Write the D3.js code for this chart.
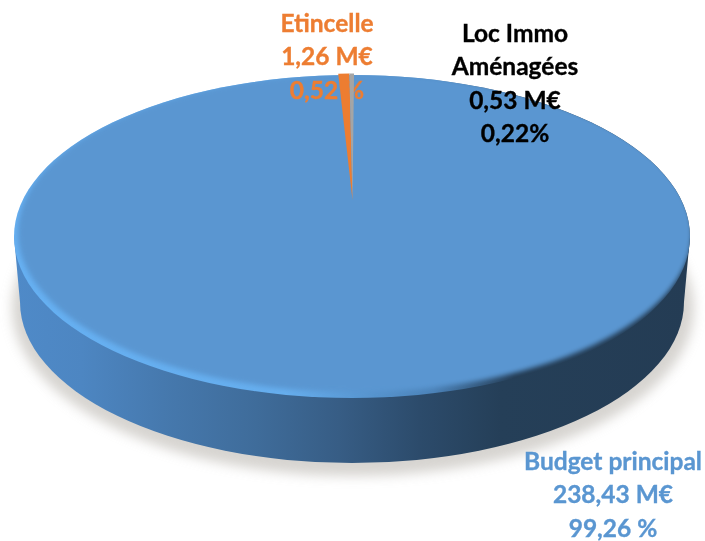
<!DOCTYPE html>
<html><head><meta charset="utf-8">
<script src="https://cdn.jsdelivr.net/npm/d3@7"></script>
<style>html,body{margin:0;padding:0;background:#fff}svg{display:block}</style>
</head><body><div id="c"></div>
<script>
const categories = ["Budget principal", "Etincelle", "Loc Immo Aménagées"];
const values = [238.43, 1.26, 0.53];
const colors = ["#5a96d1", "#ed7d31", "#a5a5a5"];
const labelLines = [
  ["Budget principal", "238,43 M€", "99,26 %"],
  ["Etincelle", "1,26 M€", "0,52 %"],
  ["Loc Immo", "Aménagées", "0,53 M€", "0,22%"]
];
const W = 705, H = 541;
const face = {cx: 352, cy: 236.5, rx: 338, ry: 161.5};
const bot = {cx: 352, cy: 302, rx: 332, ry: 161};
const apex = [352.5, 200];

const svg = d3.select("#c").append("svg").attr("width", W).attr("height", H);
const defs = svg.append("defs");
const blur = (id, s) => defs.append("filter").attr("id", id)
  .attr("x", "-10%").attr("y", "-10%").attr("width", "120%").attr("height", "120%")
  .append("feGaussianBlur").attr("stdDeviation", s);
blur("sh", 6); blur("in", 2.6); blur("tx", 0.35);

const grad = (id, stops) => {
  const g = defs.append("linearGradient").attr("id", id)
    .attr("gradientUnits", "userSpaceOnUse")
    .attr("x1", 14).attr("x2", 690).attr("y1", 0).attr("y2", 0);
  stops.forEach(([o, c]) => g.append("stop").attr("offset", o).attr("stop-color", c));
};
grad("side", [[0, "#4f8ac8"], [0.1, "#4d86c2"], [0.22, "#4679ae"], [0.36, "#3f6c9a"], [0.48, "#375d85"], [0.6, "#2c4b6b"], [0.72, "#253f58"], [1, "#243c54"]]);
grad("rim", [[0, "#66b0f2"], [0.4, "#66aeee"], [0.62, "#4b82b8"], [0.74, "#243c54"], [1, "#243c54"]]);
defs.append("clipPath").attr("id", "topclip").append("ellipse")
  .attr("cx", face.cx).attr("cy", face.cy).attr("rx", face.rx).attr("ry", face.ry);

// shadow
svg.append("ellipse").attr("cx", bot.cx + 1).attr("cy", bot.cy + 6).attr("rx", bot.rx + 9).attr("ry", bot.ry + 7)
  .attr("fill", "#c9c6c1").attr("opacity", .75).attr("filter", "url(#sh)");

// side wall
svg.append("path").attr("fill", "url(#side)")
  .attr("d", d3.line()([[face.cx - face.rx, face.cy], [face.cx + face.rx, face.cy], [bot.cx + bot.rx, bot.cy], [bot.cx - bot.rx, bot.cy]]));
svg.append("ellipse").attr("cx", bot.cx).attr("cy", bot.cy).attr("rx", bot.rx).attr("ry", bot.ry).attr("fill", "url(#side)");

// top: rim, then blurred face
svg.append("ellipse").attr("cx", face.cx).attr("cy", face.cy).attr("rx", face.rx).attr("ry", face.ry).attr("fill", "url(#rim)");
svg.append("g").attr("clip-path", "url(#topclip)").append("ellipse")
  .attr("cx", face.cx + 3).attr("cy", face.cy - 4).attr("rx", face.rx - 1).attr("ry", face.ry - 2)
  .attr("fill", colors[0]).attr("filter", "url(#in)");

// labels
const fs = 24.5, lh = 33.3;
const labels = [
  {i: 0, x: 613, y: 470, c: colors[0]},
  {i: 1, x: 327, y: 32, c: colors[1]},
  {i: 2, x: 515, y: 42, c: "#000000"}
];
labels.forEach(l => {
  labelLines[l.i].forEach((t, j) => {
    svg.append("text").attr("x", l.x).attr("y", l.y + j * lh).attr("text-anchor", "middle")
      .attr("font-family", "Lato, 'Noto Sans', sans-serif").attr("font-weight", 700)
      .attr("font-size", fs).attr("fill", l.c).attr("stroke", l.c).attr("stroke-width", 0.35)
      .attr("filter", "url(#tx)").text(t);
  });
});

// wedges, from the pie layout
const pie = d3.pie().sort(null).startAngle(0.006).endAngle(2 * Math.PI + 0.006);
const arcs = pie(values);
const proj = a => [face.cx + face.rx * Math.sin(a), face.cy - (face.ry + 1.5) * Math.cos(a)];
const wedge = d3.line();
arcs.slice(1).forEach((d, i) => {
  svg.append("path").attr("fill", colors[i + 1])
    .attr("d", wedge([apex, proj(d.startAngle), proj(d.endAngle)]) + "Z");
});
</script></body></html>
